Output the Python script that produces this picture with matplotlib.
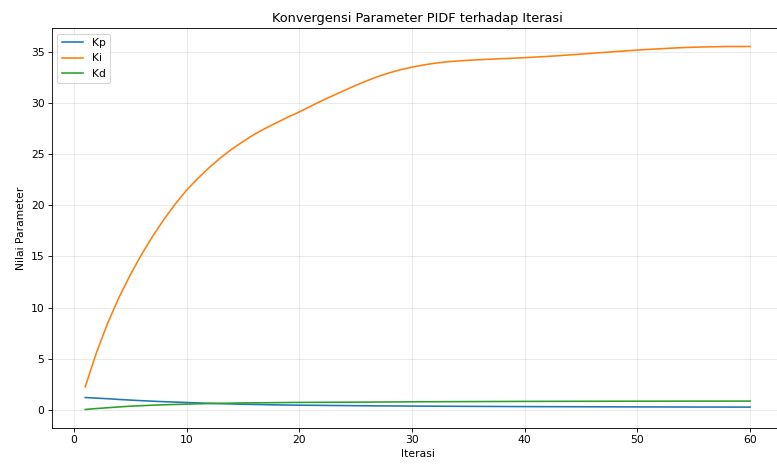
import matplotlib
matplotlib.use("Agg")
import matplotlib.pyplot as plt
import numpy as np

# Iterasi 1..60
iterasi = np.arange(1, 61)

# Nilai parameter per iterasi
kp = [1.20, 1.14, 1.08, 1.01, 0.95, 0.89, 0.84, 0.79, 0.75, 0.71,
      0.67, 0.63, 0.60, 0.57, 0.54, 0.52, 0.50, 0.48, 0.46, 0.45,
      0.44, 0.43, 0.42, 0.41, 0.40, 0.39, 0.38, 0.375, 0.37, 0.36,
      0.355, 0.35, 0.345, 0.34, 0.335, 0.33, 0.325, 0.32, 0.315, 0.31,
      0.307, 0.304, 0.301, 0.298, 0.295, 0.292, 0.289, 0.286, 0.283, 0.28,
      0.278, 0.276, 0.274, 0.272, 0.27, 0.268, 0.266, 0.264, 0.262, 0.26]
ki = [2.24, 5.6, 8.5, 11.0, 13.2, 15.2, 17.0, 18.65, 20.15, 21.5,
      22.65, 23.7, 24.65, 25.5, 26.25, 26.95, 27.55, 28.1, 28.65, 29.15,
      29.7, 30.25, 30.75, 31.25, 31.75, 32.2, 32.62, 32.98, 33.28, 33.53,
      33.74, 33.91, 34.04, 34.13, 34.2, 34.26, 34.31, 34.36, 34.41, 34.46,
      34.52, 34.58, 34.65, 34.73, 34.81, 34.89, 34.97, 35.05, 35.13, 35.2,
      35.27, 35.33, 35.39, 35.44, 35.48, 35.51, 35.53, 35.55, 35.55, 35.55]
kd = [0.03, 0.12, 0.20, 0.28, 0.35, 0.40, 0.45, 0.49, 0.52, 0.55,
      0.58, 0.61, 0.63, 0.65, 0.67, 0.68, 0.69, 0.70, 0.71, 0.72,
      0.725, 0.73, 0.735, 0.74, 0.745, 0.75, 0.76, 0.765, 0.77, 0.78,
      0.784, 0.788, 0.792, 0.796, 0.80, 0.804, 0.808, 0.812, 0.816, 0.82,
      0.822, 0.824, 0.826, 0.828, 0.83, 0.832, 0.834, 0.836, 0.838, 0.84,
      0.841, 0.842, 0.843, 0.844, 0.845, 0.846, 0.847, 0.848, 0.849, 0.85]

fig = plt.figure(figsize=(778 / 77, 465 / 77), dpi=77)
ax = fig.add_axes([0.0668, 0.0804, 0.940, 0.8586])

ax.plot(iterasi, kp, label="Kp")
ax.plot(iterasi, ki, label="Ki")
ax.plot(iterasi, kd, label="Kd")

ax.set_title("Konvergensi Parameter PIDF terhadap Iterasi")
ax.set_xlabel("Iterasi")
ax.set_ylabel("Nilai Parameter")
ax.grid(True, alpha=0.3)
ax.legend(loc="upper left")

plt.savefig("out.png", dpi=77)
